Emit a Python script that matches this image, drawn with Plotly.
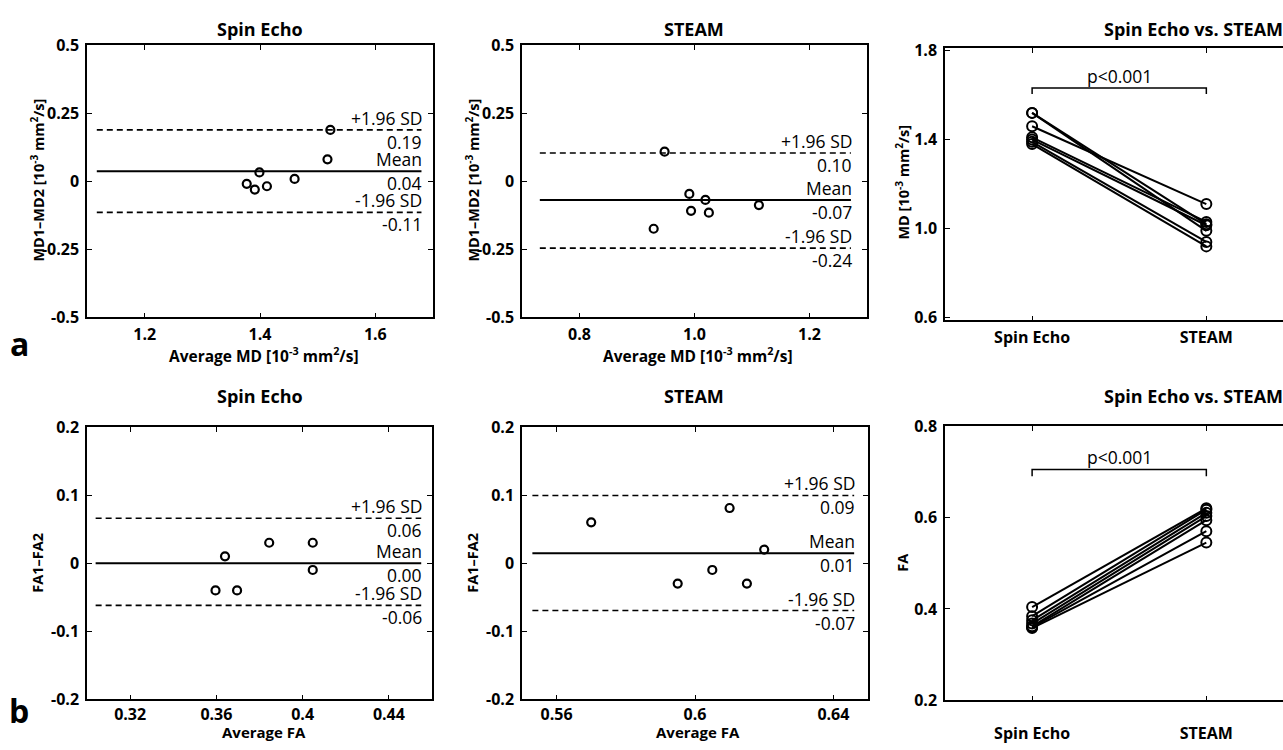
import plotly.graph_objects as go

W, H = 1283, 750

# ---------------- data ----------------
se_md_avg = [1.522, 1.517, 1.399, 1.377, 1.391, 1.412, 1.460]
se_md_diff = [0.188, 0.080, 0.032, -0.010, -0.031, -0.019, 0.008]
se_md_lines = [0.188, 0.036, -0.115]          # +1.96SD, mean, -1.96SD
se_md_labels = ["0.19", "0.04", "-0.11"]
se_md_span = [1.117, 1.680]

steam_md_avg = [0.948, 0.991, 1.019, 0.994, 1.025, 1.112, 0.929]
steam_md_diff = [0.108, -0.047, -0.069, -0.109, -0.116, -0.088, -0.175]
steam_md_lines = [0.103, -0.069, -0.246]
steam_md_labels = ["0.10", "-0.07", "-0.24"]
steam_md_span = [0.731, 1.272]

se_fa_avg = [0.364, 0.3845, 0.4047, 0.4047, 0.3596, 0.3696]
se_fa_diff = [0.010, 0.030, 0.030, -0.010, -0.040, -0.040]
se_fa_lines = [0.066, 0.0, -0.062]
se_fa_labels = ["0.06", "0.00", "-0.06"]
se_fa_span = [0.304, 0.455]

steam_fa_avg = [0.570, 0.610, 0.620, 0.605, 0.595, 0.615]
steam_fa_diff = [0.060, 0.081, 0.020, -0.010, -0.030, -0.030]
steam_fa_lines = [0.0995, 0.0147, -0.0696]
steam_fa_labels = ["0.09", "0.01", "-0.07"]
steam_fa_span = [0.553, 0.646]

md_se = [1.52, 1.52, 1.46, 1.41, 1.40, 1.39, 1.38]
md_steam = [1.02, 0.99, 1.11, 1.03, 1.015, 0.94, 0.92]
fa_se = [0.404, 0.384, 0.375, 0.368, 0.362, 0.360, 0.358]
fa_steam = [0.620, 0.617, 0.610, 0.603, 0.594, 0.570, 0.545]

methods = ["Spin Echo", "STEAM"]
method_pos = [1, 2]
md_bracket = [1.605, 1.632]
fa_bracket = [0.690, 0.705]

md_xticks = [1.2, 1.4, 1.6]
md_xtext = ["1.2", "1.4", "1.6"]
steam_md_xticks = [0.8, 1.0, 1.2]
steam_md_xtext = ["0.8", "1.0", "1.2"]
md_diff_ticks = [-0.5, -0.25, 0, 0.25, 0.5]
md_diff_text = ["-0.5", "-0.25", "0", "0.25", "0.5"]
md_ticks = [0.6, 1.0, 1.4, 1.8]
md_text = ["0.6", "1.0", "1.4", "1.8"]
fa_xticks = [0.32, 0.36, 0.40, 0.44]
fa_xtext = ["0.32", "0.36", "0.4", "0.44"]
steam_fa_xticks = [0.56, 0.60, 0.64]
steam_fa_xtext = ["0.56", "0.6", "0.64"]
fa_diff_ticks = [-0.2, -0.1, 0, 0.1, 0.2]
fa_diff_text = ["-0.2", "-0.1", "0", "0.1", "0.2"]
fa_ticks = [0.2, 0.4, 0.6, 0.8]
fa_text = ["0.2", "0.4", "0.6", "0.8"]

# ---------------- helpers ----------------
def px(x):
    return x / W

def Y(y):
    # target picture row -> page row (compensates the capture's vertical padding)
    return min((y - 10.0) / 0.973, H - 1)

def py(y):
    return 1 - Y(y) / H

FONT = "Open Sans"
BOLD_TICK = dict(family=FONT, size=16, color="black", weight="bold")

fig = go.Figure()

def axis_common(**kw):
    d = dict(showline=True, linecolor="black", linewidth=1.5, ticks="inside",
             ticklen=5, tickwidth=1.2, tickcolor="black", showgrid=False,
             zeroline=False, tickfont=BOLD_TICK, fixedrange=True)
    d.update(kw)
    return d

panels = {
    1: dict(x=(87, 433), y=(44, 317)),
    2: dict(x=(522, 867), y=(44, 317)),
    3: dict(x=(945, 1283), y=(47, 320)),
    4: dict(x=(87, 432), y=(427, 700)),
    5: dict(x=(522, 868), y=(427, 700)),
    6: dict(x=(945, 1283), y=(426, 701)),
}

xr = {1: [1.1, 1.7], 2: [0.7, 1.3], 3: [0.5, 2.44], 4: [0.30, 0.46], 5: [0.55, 0.65], 6: [0.5, 2.44]}
yr = {1: [-0.5, 0.5], 2: [-0.5, 0.5], 3: [0.588, 1.812], 4: [-0.2, 0.2], 5: [-0.2, 0.2], 6: [0.2, 0.8]}
xt = {1: (md_xticks, md_xtext), 2: (steam_md_xticks, steam_md_xtext), 3: (method_pos, methods),
      4: (fa_xticks, fa_xtext), 5: (steam_fa_xticks, steam_fa_xtext), 6: (method_pos, methods)}
yt = {1: (md_diff_ticks, md_diff_text), 2: (md_diff_ticks, md_diff_text), 3: (md_ticks, md_text),
      4: (fa_diff_ticks, fa_diff_text), 5: (fa_diff_ticks, fa_diff_text), 6: (fa_ticks, fa_text)}
xstandoff = {1: 2, 2: 2, 3: 2, 4: 0, 5: 0, 6: 18}

layout_axes = {}
for i, p in panels.items():
    sx = "" if i == 1 else str(i)
    layout_axes["xaxis" + sx] = axis_common(
        domain=[px(p["x"][0]), px(p["x"][1])], range=xr[i], anchor="y" + sx,
        tickvals=xt[i][0], ticktext=xt[i][1], mirror="ticks", ticklabelstandoff=xstandoff[i])
    layout_axes["yaxis" + sx] = axis_common(
        domain=[py(p["y"][1]), py(p["y"][0])], range=yr[i], anchor="x" + sx,
        tickvals=yt[i][0], ticktext=yt[i][1],
        mirror=("ticks" if i not in (3, 6) else False), ticklabelstandoff=3)

annotations = []
ANN_FONT = dict(family=FONT, size=17.5, color="black")
DASH = "6px,4px"

def bland_altman(i, avg, diff, lines, labels, span):
    sx = "" if i == 1 else str(i)
    xa, ya = "x" + sx, "y" + sx
    styles = [dict(color="black", width=1.6, dash=DASH),
              dict(color="black", width=2),
              dict(color="black", width=1.6, dash=DASH)]
    names = ["+1.96 SD", "Mean", "-1.96 SD"]
    for yv, st, nm, lab in zip(lines, styles, names, labels):
        fig.add_trace(go.Scatter(x=span, y=[yv, yv], mode="lines", line=st,
                                 xaxis=xa, yaxis=ya, showlegend=False, hoverinfo="skip"))
        annotations.append(dict(x=span[1], y=yv, xref=xa, yref=ya, text=nm, showarrow=False,
                                xanchor="right", yanchor="bottom", yshift=-1, xshift=2,
                                borderpad=0, font=ANN_FONT))
        annotations.append(dict(x=span[1], y=yv, xref=xa, yref=ya, text=lab, showarrow=False,
                                xanchor="right", yanchor="top", yshift=1, xshift=2,
                                borderpad=0, font=ANN_FONT))
    fig.add_trace(go.Scatter(x=avg, y=diff, mode="markers",
                             marker=dict(symbol="circle-open", size=8, color="black",
                                         line=dict(width=2.2, color="black")),
                             xaxis=xa, yaxis=ya, showlegend=False))

bland_altman(1, se_md_avg, se_md_diff, se_md_lines, se_md_labels, se_md_span)
bland_altman(2, steam_md_avg, steam_md_diff, steam_md_lines, steam_md_labels, steam_md_span)
bland_altman(4, se_fa_avg, se_fa_diff, se_fa_lines, se_fa_labels, se_fa_span)
bland_altman(5, steam_fa_avg, steam_fa_diff, steam_fa_lines, steam_fa_labels, steam_fa_span)

def paired(i, a, b, bracket):
    sx = str(i)
    xa, ya = "x" + sx, "y" + sx
    for va, vb in zip(a, b):
        fig.add_trace(go.Scatter(x=method_pos, y=[va, vb], mode="lines+markers",
                                 line=dict(color="black", width=2),
                                 marker=dict(symbol="circle-open", size=10, color="black",
                                             line=dict(width=2, color="black")),
                                 xaxis=xa, yaxis=ya, showlegend=False))
    fig.add_trace(go.Scatter(x=[method_pos[0], method_pos[0], method_pos[1], method_pos[1]],
                             y=[bracket[0], bracket[1], bracket[1], bracket[0]],
                             mode="lines", line=dict(color="black", width=1.5),
                             xaxis=xa, yaxis=ya, showlegend=False, hoverinfo="skip"))
    annotations.append(dict(x=(method_pos[0] + method_pos[1]) / 2, y=bracket[1], xref=xa, yref=ya,
                            text="p<0.001", showarrow=False, yanchor="bottom", yshift=-2,
                            font=ANN_FONT))

paired(3, md_se, md_steam, md_bracket)
paired(6, fa_se, fa_steam, fa_bracket)

# titles
TITLE_FONT = dict(family=FONT, size=18, color="black", weight="bold")
titles = [("Spin Echo", 260, 28), ("STEAM", 694, 28), ("Spin Echo vs. STEAM", 1193, 28),
          ("Spin Echo", 260, 396), ("STEAM", 694, 396), ("Spin Echo vs. STEAM", 1193, 396)]
for t, x, y in titles:
    annotations.append(dict(x=px(x), y=py(y), xref="paper", yref="paper", text=t,
                            showarrow=False, xanchor="center", yanchor="middle", font=TITLE_FONT))

AX_FONT = dict(family=FONT, size=15.5, color="black", weight="bold")
md_unit = "[10<sup>-3</sup> mm<sup>2</sup>/s]"
xtitles = [("Average MD " + md_unit, 264, 355), ("Average MD " + md_unit, 698, 355)]
for t, x, y in xtitles:
    annotations.append(dict(x=px(x), y=py(y), xref="paper", yref="paper", text=t,
                            showarrow=False, xanchor="center", yanchor="middle", font=AX_FONT))
for x in (264, 698):
    annotations.append(dict(x=px(x), y=0, xref="paper", yref="paper", text="Average FA",
                            showarrow=False, xanchor="center", yanchor="bottom", yshift=-4,
                            borderpad=0, font=dict(family=FONT, size=15, color="black",
                                                   weight="bold")))
YT_FONT = dict(family=FONT, size=14.5, color="black", weight="bold")
ytitles = [("MD1–MD2 " + md_unit, 38, 180), ("MD1–MD2 " + md_unit, 473, 180),
           ("MD " + md_unit, 903, 182), ("FA1–FA2", 38, 563), ("FA1–FA2", 473, 563),
           ("FA", 903, 563)]
for t, x, y in ytitles:
    annotations.append(dict(x=px(x), y=py(y), xref="paper", yref="paper", text=t,
                            showarrow=False, xanchor="center", yanchor="middle",
                            textangle=-90, font=YT_FONT))

for t, y in [("a", 343), ("b", 711)]:
    annotations.append(dict(x=px(19), y=py(y), xref="paper", yref="paper", text=t,
                            showarrow=False, xanchor="center", yanchor="middle",
                            font=dict(family=FONT, size=32, color="black", weight="bold")))

fig.update_layout(width=W, height=H, margin=dict(l=0, r=0, t=0, b=0),
                  paper_bgcolor="white", plot_bgcolor="white",
                  annotations=annotations, showlegend=False, **layout_axes)

fig.write_html("out.html", config={"displayModeBar": False},
               post_script="document.body.style.margin='0px';document.body.style.overflow='hidden';")
